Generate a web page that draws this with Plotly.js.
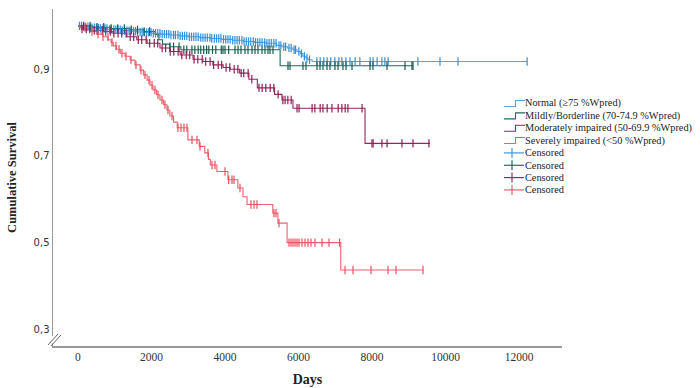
<!DOCTYPE html>
<html>
<head>
<meta charset="utf-8">
<script src="https://cdn.plot.ly/plotly-3.0.1.min.js"></script>
<style>html,body{margin:0;padding:0;background:#fff;}#chart{width:700px;height:388px;}</style>
</head>
<body>
<div id="chart"></div>
<script>
// ---- Data ----
const groupNames = ['Normal (≥75 %Wpred)', 'Mildly/Borderline (70-74.9 %Wpred)', 'Moderately impaired (50-69.9 %Wpred)', 'Severely impaired (&lt;50 %Wpred)'];
const censorLabel = 'Censored';

// Kaplan-Meier step points (days, cumulative survival)
const normalDays = [0, 150, 300, 450, 600, 800, 1000, 1200, 1400, 1600, 1800, 2000, 2250, 2500, 2750, 3000, 3300, 3600, 3900, 4200, 4500, 4800, 5100, 5400, 5550, 5700, 5850, 5960, 6050, 6120, 6200, 6260, 6370];
const normalSurv = [1.0, 0.998, 0.996, 0.995, 0.994, 0.992, 0.991, 0.989, 0.988, 0.986, 0.985, 0.983, 0.981, 0.979, 0.977, 0.975, 0.973, 0.971, 0.969, 0.967, 0.964, 0.962, 0.960, 0.955, 0.952, 0.949, 0.945, 0.941, 0.936, 0.930, 0.926, 0.922, 0.918];

const mildDays = [0, 400, 900, 1400, 1800, 2100, 2200, 2300, 2500, 2800, 5500];
const mildSurv = [1.0, 0.997, 0.994, 0.991, 0.987, 0.980, 0.968, 0.958, 0.952, 0.945, 0.908];

const modDays = [0, 100, 330, 680, 950, 1330, 1600, 1880, 2230, 2500, 2780, 3130, 3400, 3670, 3950, 4140, 4400, 4650, 4880, 5350, 5550, 5850, 7810];
const modSurv = [1.0, 0.993, 0.990, 0.987, 0.983, 0.975, 0.968, 0.960, 0.949, 0.941, 0.933, 0.923, 0.918, 0.910, 0.904, 0.900, 0.891, 0.877, 0.857, 0.842, 0.829, 0.810, 0.729];

const sevDays = [0, 60, 200, 330, 500, 680, 820, 900, 960, 1050, 1150, 1280, 1420, 1550, 1690, 1780, 1880, 1960, 2040, 2140, 2230, 2330, 2420, 2500, 2600, 2700, 2990, 3300, 3450, 3550, 3600, 3780, 4080, 4350, 4490, 4600, 5300, 5440, 5690, 7150];
const sevSurv = [1.0, 0.996, 0.992, 0.987, 0.981, 0.975, 0.968, 0.962, 0.954, 0.946, 0.937, 0.930, 0.921, 0.910, 0.898, 0.887, 0.875, 0.863, 0.852, 0.841, 0.829, 0.818, 0.806, 0.792, 0.778, 0.765, 0.737, 0.722, 0.707, 0.692, 0.679, 0.664, 0.645, 0.626, 0.606, 0.588, 0.568, 0.545, 0.500, 0.437];

// Last follow-up day of each group
const endDays = [12220, 9120, 9580, 9390];

// Censored observation days
const normalCensor = [40, 95, 160, 210, 270, 330, 380, 445, 500, 560, 610, 680, 735, 790, 860, 910, 975, 1030, 1090, 1150, 1205, 1270, 1330, 1390, 1440, 1510, 1565, 1620, 1690, 1745, 1800, 1870, 1925, 1990, 2050, 2110, 2170, 2230, 2290, 2350, 2410, 2470, 2530, 2600, 2650, 2720, 2780, 2840, 2900, 2960, 3030, 3090, 3150, 3210, 3270, 3340, 3400, 3460, 3520, 3590, 3640, 3710, 3770, 3830, 3890, 3960, 4020, 4080, 4140, 4210, 4270, 4330, 4390, 4460, 4520, 4580, 4640, 4700, 4770, 4830, 4890, 4950, 5010, 5080, 5140, 5200, 5260, 5330, 5390, 5470, 5520, 5600, 5650, 5740, 5800, 5880, 5920, 6010, 6080, 6160, 6230, 6300, 6500, 6590, 6690, 6780, 6880, 6990, 7100, 7180, 7290, 7400, 7540, 7670, 7950, 8030, 8140, 8270, 8350, 8440, 9250, 9850, 10340, 12220];
const mildCensor = [150, 330, 520, 700, 900, 1080, 1260, 1450, 1620, 1800, 1950, 2500, 2600, 2750, 2880, 2960, 3100, 3180, 3270, 3340, 3420, 3500, 3560, 3660, 3750, 3900, 3946, 4000, 4100, 4272, 4354, 4435, 4544, 4626, 4735, 4816, 4898, 5007, 5088, 5170, 5224, 5306, 5714, 5769, 6122, 6204, 6503, 6585, 6667, 6775, 6857, 6993, 7075, 7211, 7293, 7456, 7946, 8027, 8408, 8898, 9088, 9115];
const modCensor = [109, 225, 318, 441, 540, 660, 755, 880, 975, 1090, 1190, 1310, 1420, 1515, 1640, 1735, 1855, 1950, 2075, 2170, 2290, 2385, 2510, 2605, 2725, 2825, 2945, 3040, 3160, 3260, 3380, 3475, 3595, 3690, 3815, 3910, 4030, 4130, 4250, 4350, 4440, 4510, 4630, 4730, 4925, 5010, 5110, 5230, 5330, 5445, 5575, 5635, 5710, 5800, 5960, 6015, 6370, 6445, 6590, 6665, 6780, 6910, 7080, 7180, 7270, 7345, 7730, 8000, 8030, 8270, 8410, 8815, 9115, 9550];
const sevCensor = [190, 381, 544, 680, 816, 925, 1034, 1116, 1197, 1306, 1442, 1578, 1714, 1823, 1932, 2014, 2095, 2177, 2286, 2367, 2449, 2558, 2721, 2803, 2884, 2966, 3102, 3238, 3320, 3537, 3646, 3728, 4000, 4100, 4190, 4245, 4408, 4707, 4789, 4871, 5333, 5388, 5469, 5741, 5796, 5850, 5905, 5959, 6014, 6095, 6177, 6258, 6340, 6449, 6639, 6830, 7120, 7265, 7483, 7973, 8435, 8653, 9388];

// Axis ticks
const xTickVals = [0, 2000, 4000, 6000, 8000, 10000, 12000];
const xTickText = ['0', '2000', '4000', '6000', '8000', '10000', '12000'];
const yTickVals = [0.3, 0.5, 0.7, 0.9];
const yTickText = ['0,3', '0,5', '0,7', '0,9'];

// ---- Styles ----
const lineColors = ['#5ba5d6', '#21695c', '#97265e', '#ec6170'];
const markColors = ['#2f8fdc', '#185d50', '#8e1f55', '#e8505e'];
const SERIF = 'Liberation Serif';

const groups = [
  {t: normalDays, s: normalSurv, c: normalCensor},
  {t: mildDays, s: mildSurv, c: mildCensor},
  {t: modDays, s: modSurv, c: modCensor},
  {t: sevDays, s: sevSurv, c: sevCensor}
];

function survAt(times, surv, d) {
  let v = surv[0];
  for (let i = 0; i < times.length; i++) { if (times[i] <= d) v = surv[i]; }
  return v;
}

const traces = [];
groups.forEach((g, i) => {
  traces.push({
    type: 'scatter', mode: 'lines', name: groupNames[i],
    x: g.t.concat([endDays[i]]), y: g.s.concat([g.s[g.s.length - 1]]),
    line: {shape: 'hv', color: lineColors[i], width: 1.1},
    showlegend: false, hoverinfo: 'skip'
  });
});
groups.forEach((g, i) => {
  traces.push({
    type: 'scatter', mode: 'markers', name: censorLabel,
    x: g.c, y: g.c.map(d => survAt(g.t, g.s, d)),
    marker: {symbol: 'line-ns-open', size: 6, line: {color: markColors[i], width: 1.2}, color: markColors[i]},
    showlegend: false, hoverinfo: 'skip'
  });
});

// ---- Plot geometry (pixels) ----
const W = 700, H = 388, L = 53, R = 562, T = 9, B = 346;
const px = x => (x - L) / (R - L);
const py = y => (B - y) / (B - T);

// Manual legend (compact like the SPSS original)
const shapes = [];
const annotations = [];
const rowY0 = 103.5, rowStep = 12.35;
const legendTexts = groupNames.concat([censorLabel, censorLabel, censorLabel, censorLabel]);
legendTexts.forEach((txt, k) => {
  const yc = rowY0 + k * rowStep;
  if (k < 4) {
    const c = lineColors[k];
    shapes.push({type: 'path', xref: 'paper', yref: 'paper',
      path: `M ${px(504)} ${py(yc + 3)} L ${px(515.5)} ${py(yc + 3)} L ${px(515.5)} ${py(yc - 3)} L ${px(525)} ${py(yc - 3)}`,
      line: {color: c, width: 1.1}});
  } else {
    const c = markColors[k - 4];
    shapes.push({type: 'line', xref: 'paper', yref: 'paper', x0: px(504), x1: px(524), y0: py(yc), y1: py(yc), line: {color: c, width: 1.1}});
    shapes.push({type: 'line', xref: 'paper', yref: 'paper', x0: px(512), x1: px(512), y0: py(yc - 5), y1: py(yc + 5), line: {color: c, width: 1.1}});
  }
  annotations.push({xref: 'paper', yref: 'paper', x: px(523), y: py(yc), xanchor: 'left', yanchor: 'middle',
    text: txt, showarrow: false, font: {family: SERIF, size: 10.3, color: '#222'}});
});

// Axis break marks on y axis
shapes.push({type: 'rect', xref: 'paper', yref: 'paper', x0: px(50.5), x1: px(55.5), y0: py(343.5), y1: py(336), fillcolor: '#fff', line: {width: 0}, layer: 'above'});
shapes.push({type: 'line', xref: 'paper', yref: 'paper', x0: px(48), x1: px(58), y0: py(345), y1: py(334), line: {color: '#666', width: 1}, layer: 'above'});
shapes.push({type: 'line', xref: 'paper', yref: 'paper', x0: px(51), x1: px(61), y0: py(346), y1: py(335), line: {color: '#666', width: 1}, layer: 'above'});

const layout = {
  width: W, height: H,
  margin: {l: L, r: W - R, t: T, b: H - B, pad: 0},
  paper_bgcolor: '#fff', plot_bgcolor: '#fff',
  showlegend: false,
  font: {family: SERIF, color: '#333'},
  xaxis: {
    range: [-680, 13170], tickvals: xTickVals, ticktext: xTickText,
    showgrid: false, zeroline: false, showline: true, linecolor: '#999', linewidth: 1.5,
    ticks: '', tickfont: {family: SERIF, size: 11.5, color: '#333'},
    title: {text: '<b>Days</b>', font: {family: SERIF, size: 14, color: '#222'}, standoff: 12}
  },
  yaxis: {
    range: [0.2615, 1.039], tickvals: yTickVals, ticktext: yTickText,
    showgrid: false, zeroline: false, showline: true, linecolor: '#999', linewidth: 1.5,
    ticks: '', tickfont: {family: 'DejaVu Sans', size: 10, color: '#333'},
    title: {text: '<b>Cumulative Survival</b>', font: {family: SERIF, size: 12.5, color: '#222'}, standoff: 14}
  },
  shapes: shapes,
  annotations: annotations
};

Plotly.newPlot('chart', traces, layout, {staticPlot: true, displayModeBar: false});
</script>
</body>
</html>
